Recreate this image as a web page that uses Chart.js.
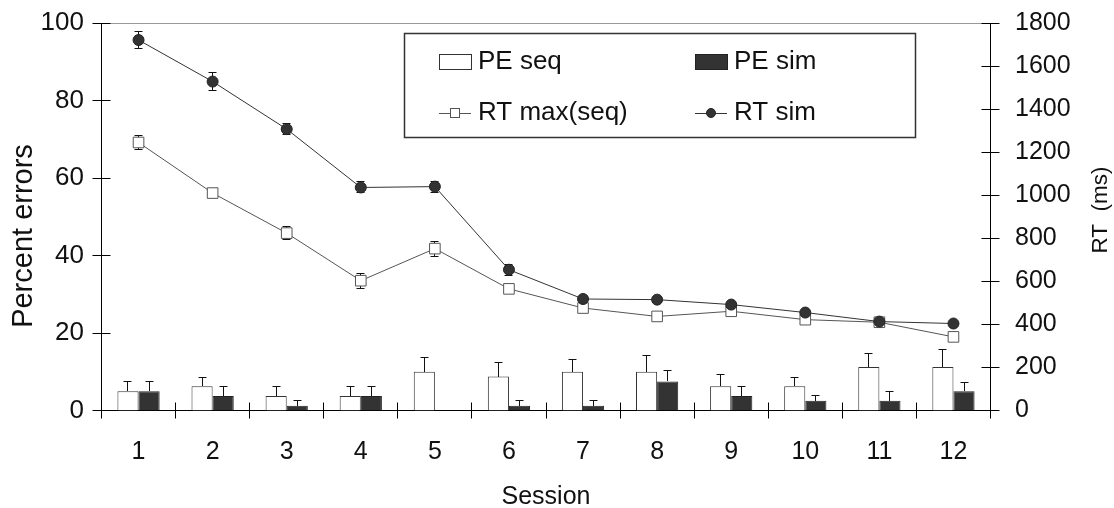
<!DOCTYPE html>
<html><head><meta charset="utf-8">
<script src="https://cdn.jsdelivr.net/npm/chart.js@4.4.0/dist/chart.umd.min.js"></script>
<style>html,body{margin:0;padding:0;background:#fff;}#wrap{width:1114px;height:508px;position:relative;}</style>
</head><body><div id="wrap"><canvas id="c" width="1114" height="508"></canvas></div>
<script>
// ---- data ----
const sessions = ['1','2','3','4','5','6','7','8','9','10','11','12'];
const peSeq    = [5, 6.25, 3.75, 3.75, 10, 8.75, 10, 10, 6.25, 6.25, 11.25, 11.25];
const peSeqErr = [2.5, 2.5, 2.5, 2.5, 3.75, 3.75, 3.25, 4.25, 3.25, 2.5, 3.5, 4.5];
const peSim    = [5, 3.75, 1.25, 3.75, 0, 1.25, 1.25, 7.5, 3.75, 2.5, 2.5, 5];
const peSimErr = [2.5, 2.5, 1.4, 2.5, 0, 1.4, 1.4, 3, 2.5, 1.6, 2.6, 2.25];
const rtSeq    = [1245, 1010, 824, 603, 752, 565, 476, 437, 461, 422, 410, 342];
const rtSeqErr = [33, 20, 34, 37, 37, 10, 10, 10, 10, 10, 10, 10];
const rtSim    = [1721, 1528, 1307, 1036, 1040, 654, 518, 515, 492, 455, 413, 404];
const rtSimErr = [44, 45, 29, 28, 28, 28, 12, 12, 12, 12, 12, 10];
const percentTicks = [0, 20, 40, 60, 80, 100];
const rtTicks = [0, 200, 400, 600, 800, 1000, 1200, 1400, 1600, 1800];
const labelPeSeq = 'PE seq', labelPeSim = 'PE sim', labelRtSeq = 'RT max(seq)', labelRtSim = 'RT sim';
const xTitle = 'Session', yLeftTitle = 'Percent errors', yRightTitle = 'RT  (ms)';

const FONT = "'Liberation Sans', Arial, sans-serif";
const FS = 25;
const errs = [peSeqErr, peSimErr, rtSeqErr, rtSimErr];

function crisp(v){ return Math.round(v - 0.5) + 0.5; }

const decor = {
  id: 'decor',
  beforeDatasetsDraw(chart) {
    const ctx = chart.ctx;
    ctx.save();
    ctx.strokeStyle = '#111';
    ctx.lineWidth = 1;
    chart.data.datasets.forEach((ds, i) => {
      const meta = chart.getDatasetMeta(i);
      const sc = chart.scales[meta.yAxisID];
      const e = errs[i];
      meta.data.forEach((el, j) => {
        const v = ds.data[j], d = e[j];
        if (!d) return;
        const x = crisp(el.x);
        const yTop = Math.round(sc.getPixelForValue(v + d));
        const yBot = ds.type === 'line' ? Math.round(sc.getPixelForValue(v - d)) : Math.round(sc.getPixelForValue(v));
        ctx.beginPath();
        ctx.moveTo(x, yBot); ctx.lineTo(x, yTop);
        ctx.moveTo(x - 4, yTop + 0.5); ctx.lineTo(x + 4, yTop + 0.5);
        if (ds.type === 'line') { ctx.moveTo(x - 4, yBot - 0.5); ctx.lineTo(x + 4, yBot - 0.5); }
        ctx.stroke();
      });
    });
    ctx.restore();
  },
  afterDraw(chart) {
    const ctx = chart.ctx;
    const a = chart.chartArea;
    const yl = chart.scales.y, yr = chart.scales.y1;
    ctx.save();
    // top border
    ctx.strokeStyle = '#999'; ctx.lineWidth = 1;
    ctx.beginPath(); ctx.moveTo(a.left, crisp(a.top)); ctx.lineTo(a.right, crisp(a.top)); ctx.stroke();
    // tick marks
    ctx.strokeStyle = '#000';
    ctx.beginPath();
    percentTicks.forEach(t => { const y = crisp(yl.getPixelForValue(t)); ctx.moveTo(a.left - 9, y); ctx.lineTo(a.left + 9, y); });
    rtTicks.forEach(t => { const y = crisp(yr.getPixelForValue(t)); ctx.moveTo(a.right - 9, y); ctx.lineTo(a.right + 9, y); });
    const n = sessions.length, w = (a.right - a.left) / n;
    for (let i = 0; i <= n; i++) { const x = crisp(a.left + i * w); ctx.moveTo(x, a.bottom - 8); ctx.lineTo(x, a.bottom + 8); }
    ctx.stroke();
    // titles
    ctx.fillStyle = '#111';
    ctx.textAlign = 'center'; ctx.textBaseline = 'middle';
    ctx.font = FS + 'px ' + FONT;
    ctx.fillText(xTitle, (a.left + a.right) / 2, 497);
    ctx.font = '29px ' + FONT;
    ctx.save(); ctx.translate(24, 236); ctx.rotate(-Math.PI / 2); ctx.fillText(yLeftTitle, 0, 0); ctx.restore();
    ctx.font = '22.5px ' + FONT;
    ctx.save(); ctx.translate(1101, 210); ctx.rotate(-Math.PI / 2); ctx.fillText(yRightTitle, 0, 0); ctx.restore();
    // legend
    const L = 404.5, T = 33.5, R = 915.5, B = 137.5;
    ctx.fillStyle = '#fff'; ctx.fillRect(L, T, R - L, B - T);
    ctx.strokeStyle = '#333'; ctx.lineWidth = 1.5; ctx.strokeRect(L, T, R - L, B - T);
    ctx.lineWidth = 1;
    ctx.font = '26px ' + FONT;
    const ds = chart.data.datasets;
    const items = [
      {ds: ds[0], x: 439, y: 62}, {ds: ds[1], x: 695, y: 62},
      {ds: ds[2], x: 439, y: 113}, {ds: ds[3], x: 695, y: 113}
    ];
    items.forEach(it => {
      const d = it.ds;
      if (d.type === 'bar') {
        ctx.fillStyle = d.backgroundColor; ctx.strokeStyle = d.borderColor;
        ctx.fillRect(it.x + 0.5, it.y - 7.5, 32, 15); ctx.strokeRect(it.x + 0.5, it.y - 7.5, 32, 15);
      } else {
        ctx.strokeStyle = d.borderColor;
        ctx.beginPath(); ctx.moveTo(it.x, crisp(it.y)); ctx.lineTo(it.x + 32, crisp(it.y)); ctx.stroke();
        ctx.fillStyle = d.pointBackgroundColor; ctx.strokeStyle = d.pointBorderColor;
        if (d.pointStyle === 'rect') {
          ctx.fillRect(it.x + 11.5, it.y - 4.5, 9, 9); ctx.strokeRect(it.x + 11.5, it.y - 4.5, 9, 9);
        } else {
          ctx.beginPath(); ctx.arc(it.x + 16, it.y, 4.5, 0, Math.PI * 2); ctx.fill(); ctx.stroke();
        }
      }
      ctx.fillStyle = '#111'; ctx.textAlign = 'left'; ctx.textBaseline = 'middle';
      ctx.fillText(d.label, it.x + 39, it.y);
    });
    ctx.restore();
  }
};

new Chart(document.getElementById('c'), {
  data: {
    labels: sessions,
    datasets: [
      {type: 'bar', label: labelPeSeq, data: peSeq, yAxisID: 'y', backgroundColor: '#ffffff', borderColor: '#333', borderWidth: 1, order: 2},
      {type: 'bar', label: labelPeSim, data: peSim, yAxisID: 'y', backgroundColor: '#333333', borderColor: '#222', borderWidth: 1, order: 2},
      {type: 'line', label: labelRtSeq, data: rtSeq, yAxisID: 'y1', borderColor: '#555', borderWidth: 1, pointStyle: 'rect', pointRadius: 7.5, pointBackgroundColor: '#fff', pointBorderColor: '#555', pointBorderWidth: 1, tension: 0, order: 1},
      {type: 'line', label: labelRtSim, data: rtSim, yAxisID: 'y1', borderColor: '#333', borderWidth: 1, pointStyle: 'circle', pointRadius: 5.5, pointBackgroundColor: '#333', pointBorderColor: '#222', pointBorderWidth: 1, tension: 0, order: 0}
    ]
  },
  options: {
    responsive: false, animation: false, devicePixelRatio: 1,
    layout: {padding: {top: 23, left: 0, right: 0, bottom: 0}},
    datasets: {bar: {categoryPercentage: 0.57, barPercentage: 1}},
    plugins: {legend: {display: false}, tooltip: {enabled: false}},
    scales: {
      x: {type: 'category', offset: true, grid: {display: false, drawTicks: false},
          border: {display: true, color: '#000', width: 1},
          ticks: {padding: 27, color: '#111', font: {family: FONT, size: FS}},
          afterFit(s) { s.height = 97.5; s.paddingLeft = 0; s.paddingRight = 0; }},
      y: {position: 'left', min: 0, max: 100, grid: {display: false, drawTicks: false},
          border: {display: true, color: '#000', width: 1},
          ticks: {stepSize: 20, padding: 17.5, color: '#111', font: {family: FONT, size: 26}},
          afterFit(s) { s.width = 101.5; s.paddingTop = 0; s.paddingBottom = 0; }},
      y1: {position: 'right', min: 0, max: 1800, grid: {display: false, drawTicks: false},
          border: {display: true, color: '#000', width: 1},
          ticks: {stepSize: 200, padding: 24.5, color: '#111', font: {family: FONT, size: FS},
                  callback: v => String(v)},
          afterFit(s) { s.width = 123.5; s.paddingTop = 0; s.paddingBottom = 0; }}
    }
  },
  plugins: [decor]
});
</script></body></html>
